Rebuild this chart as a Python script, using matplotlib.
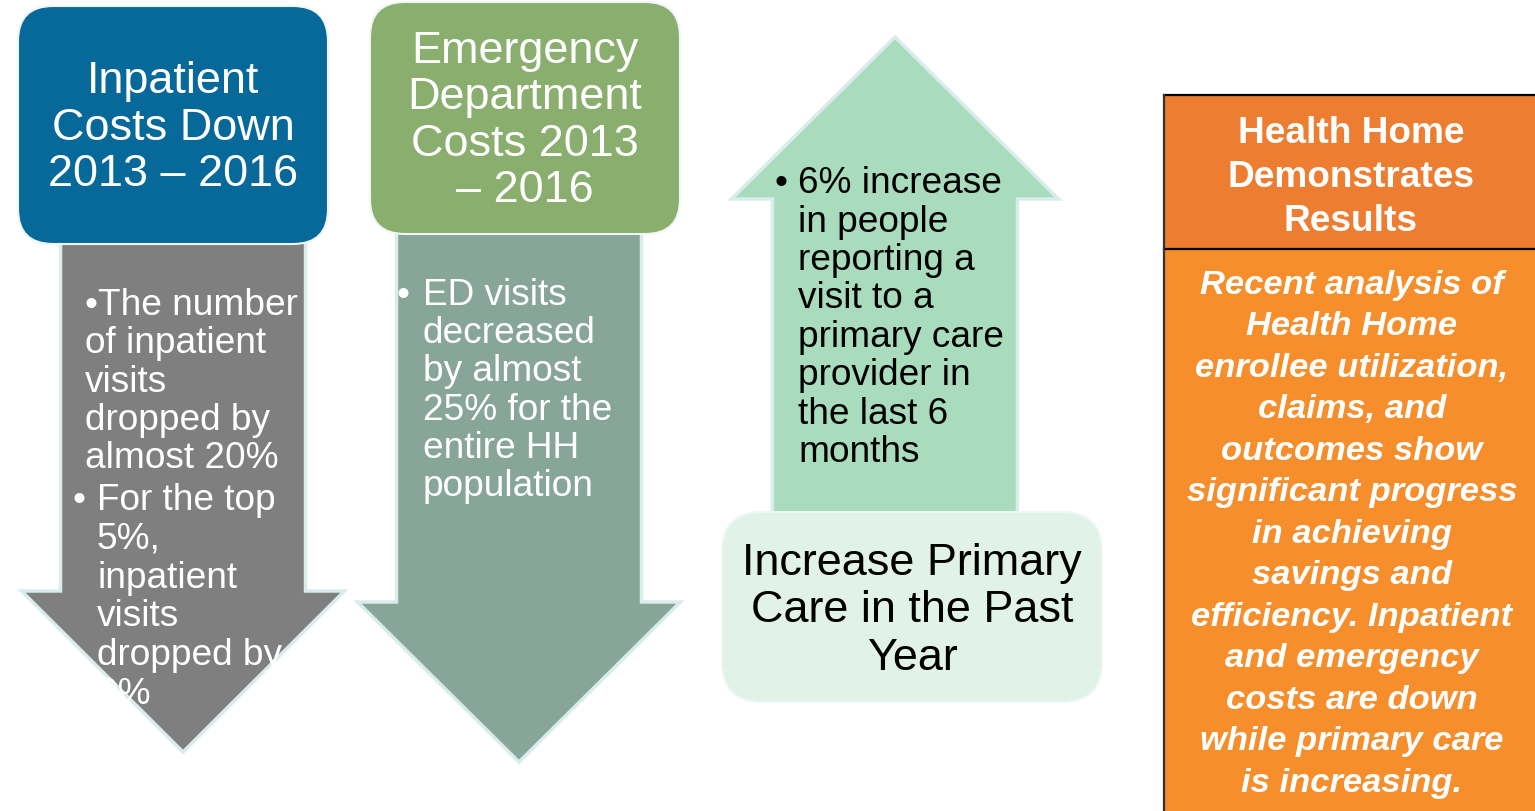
import matplotlib
matplotlib.use("Agg")
import matplotlib.pyplot as plt
from matplotlib.patches import Polygon, FancyBboxPatch, Rectangle

plt.rcParams['font.family'] = ['Liberation Sans', 'DejaVu Sans']

# Text content
# --------------
inpatient_title = ["Inpatient", "Costs Down", "2013 \u2013 2016"]
ed_title = ["Emergency", "Department", "Costs 2013", "\u2013 2016"]
inpatient_pt1 = ["\u2022The number", "of inpatient", "visits", "dropped by", "almost 20%"]
inpatient_pt2 = ["For the top", "5%,", "inpatient", "visits", "dropped by", "9%"]
ed_points = ["ED visits", "decreased", "by almost", "25% for the", "entire HH", "population"]
pc_points = ["6% increase", "in people", "reporting a", "visit to a", "primary care",
             "provider in", "the last 6", "months"]
pc_title = ["Increase Primary", "Care in the Past", "Year"]
hh_header = ["Health Home", "Demonstrates", "Results"]
hh_body = ["Recent analysis of", "Health Home", "enrollee utilization,", "claims, and",
           "outcomes show", "significant progress", "in achieving", "savings and",
           "efficiency. Inpatient", "and emergency", "costs are down",
           "while primary care", "is increasing."]

# Colours
c_blue = '#07699a'
c_green = '#89ae6d'
c_grey = '#7f7f7f'
c_teal = '#88a59a'
c_mint = '#a9dbbd'
c_mint_light = '#e1f3e8'
c_edge = '#d9ecec'
c_orange_head = '#ed7d31'
c_orange_body = '#f68e2c'

PX = 0.72  # px -> pt at 100 dpi


def lines(ax, x, y0, dy, rows, size_px, color, ha='left', **kw):
    for i, s in enumerate(rows):
        ax.text(x, y0 + i * dy, s, ha=ha, va='baseline', color=color,
                fontsize=size_px * PX, zorder=5, **kw)


def bullet(ax, x, y, color):
    ax.text(x, y, "\u2022", color=color, fontsize=37 * PX, va='baseline', zorder=5)


def block_arrow(ax, cx, base, shaft_w, shoulder, head_w, tip, color):
    # same outline for up and down arrows, direction set by tip vs base
    pts = [(cx - shaft_w / 2, base), (cx + shaft_w / 2, base),
           (cx + shaft_w / 2, shoulder), (cx + head_w / 2, shoulder),
           (cx, tip), (cx - head_w / 2, shoulder), (cx - shaft_w / 2, shoulder)]
    ax.add_patch(Polygon(pts, closed=True, facecolor=color, edgecolor=c_edge,
                         linewidth=2.5, joinstyle='miter', zorder=1))


def rbox(ax, x0, y0, x1, y1, color, r=35):
    ax.add_patch(FancyBboxPatch((x0, y0), x1 - x0, y1 - y0,
                                boxstyle="round,pad=0,rounding_size=%d" % r,
                                facecolor=color, edgecolor='#eef6f6',
                                linewidth=1.5, zorder=2))


fig = plt.figure(figsize=(15.35, 8.12), dpi=100)
ax = fig.add_axes([0, 0, 1, 1])
ax.set_xlim(0, 1535)
ax.set_ylim(812, 0)
ax.set_axis_off()

# Inpatient column
block_arrow(ax, 183, 230, 245, 592, 323, 753, c_grey)
rbox(ax, 18, 7, 328, 245, c_blue)
lines(ax, 173, 93, 46.5, inpatient_title, 45, 'white', ha='center')
lines(ax, 85, 315, 38.3, inpatient_pt1, 37, 'white')
bullet(ax, 72, 510, 'white')
lines(ax, 97, 510, 38.8, inpatient_pt2, 37, 'white')

# Emergency department column
block_arrow(ax, 519, 225, 245, 603, 323, 763, c_teal)
rbox(ax, 370, 3, 680, 235, c_green)
lines(ax, 525, 63, 46.3, ed_title, 45, 'white', ha='center')
bullet(ax, 397, 305, 'white')
lines(ax, 423, 305, 38.2, ed_points, 37, 'white')

# Primary care column
block_arrow(ax, 895, 520, 245, 200, 327, 38, c_mint)
rbox(ax, 722, 513, 1102, 703, c_mint_light, r=40)
lines(ax, 912, 575, 47.5, pc_title, 45, 'black', ha='center')
bullet(ax, 775, 193, 'black')
lines(ax, 798, 193, 38.5, pc_points, 37, 'black')

# Health Home summary panel
ax.add_patch(Rectangle((1164, 96), 400, 154, facecolor=c_orange_head,
                       edgecolor='none', zorder=2))
ax.add_patch(Rectangle((1164, 250), 400, 600, facecolor=c_orange_body,
                       edgecolor='none', zorder=2))
ax.plot([1164, 1540], [96, 96], color='black', lw=1.6, zorder=3)
ax.plot([1164, 1540], [250, 250], color='black', lw=1.6, zorder=3)
ax.plot([1164, 1164], [96, 815], color='#333333', lw=1.6, zorder=3)
lines(ax, 1351, 143, 44, hh_header, 37, 'white', ha='center', fontweight='bold')
lines(ax, 1352, 294, 41.5, hh_body, 34.5, 'white', ha='center',
      fontweight='bold', fontstyle='italic')

fig.savefig('out.png', dpi=100, facecolor='white')
